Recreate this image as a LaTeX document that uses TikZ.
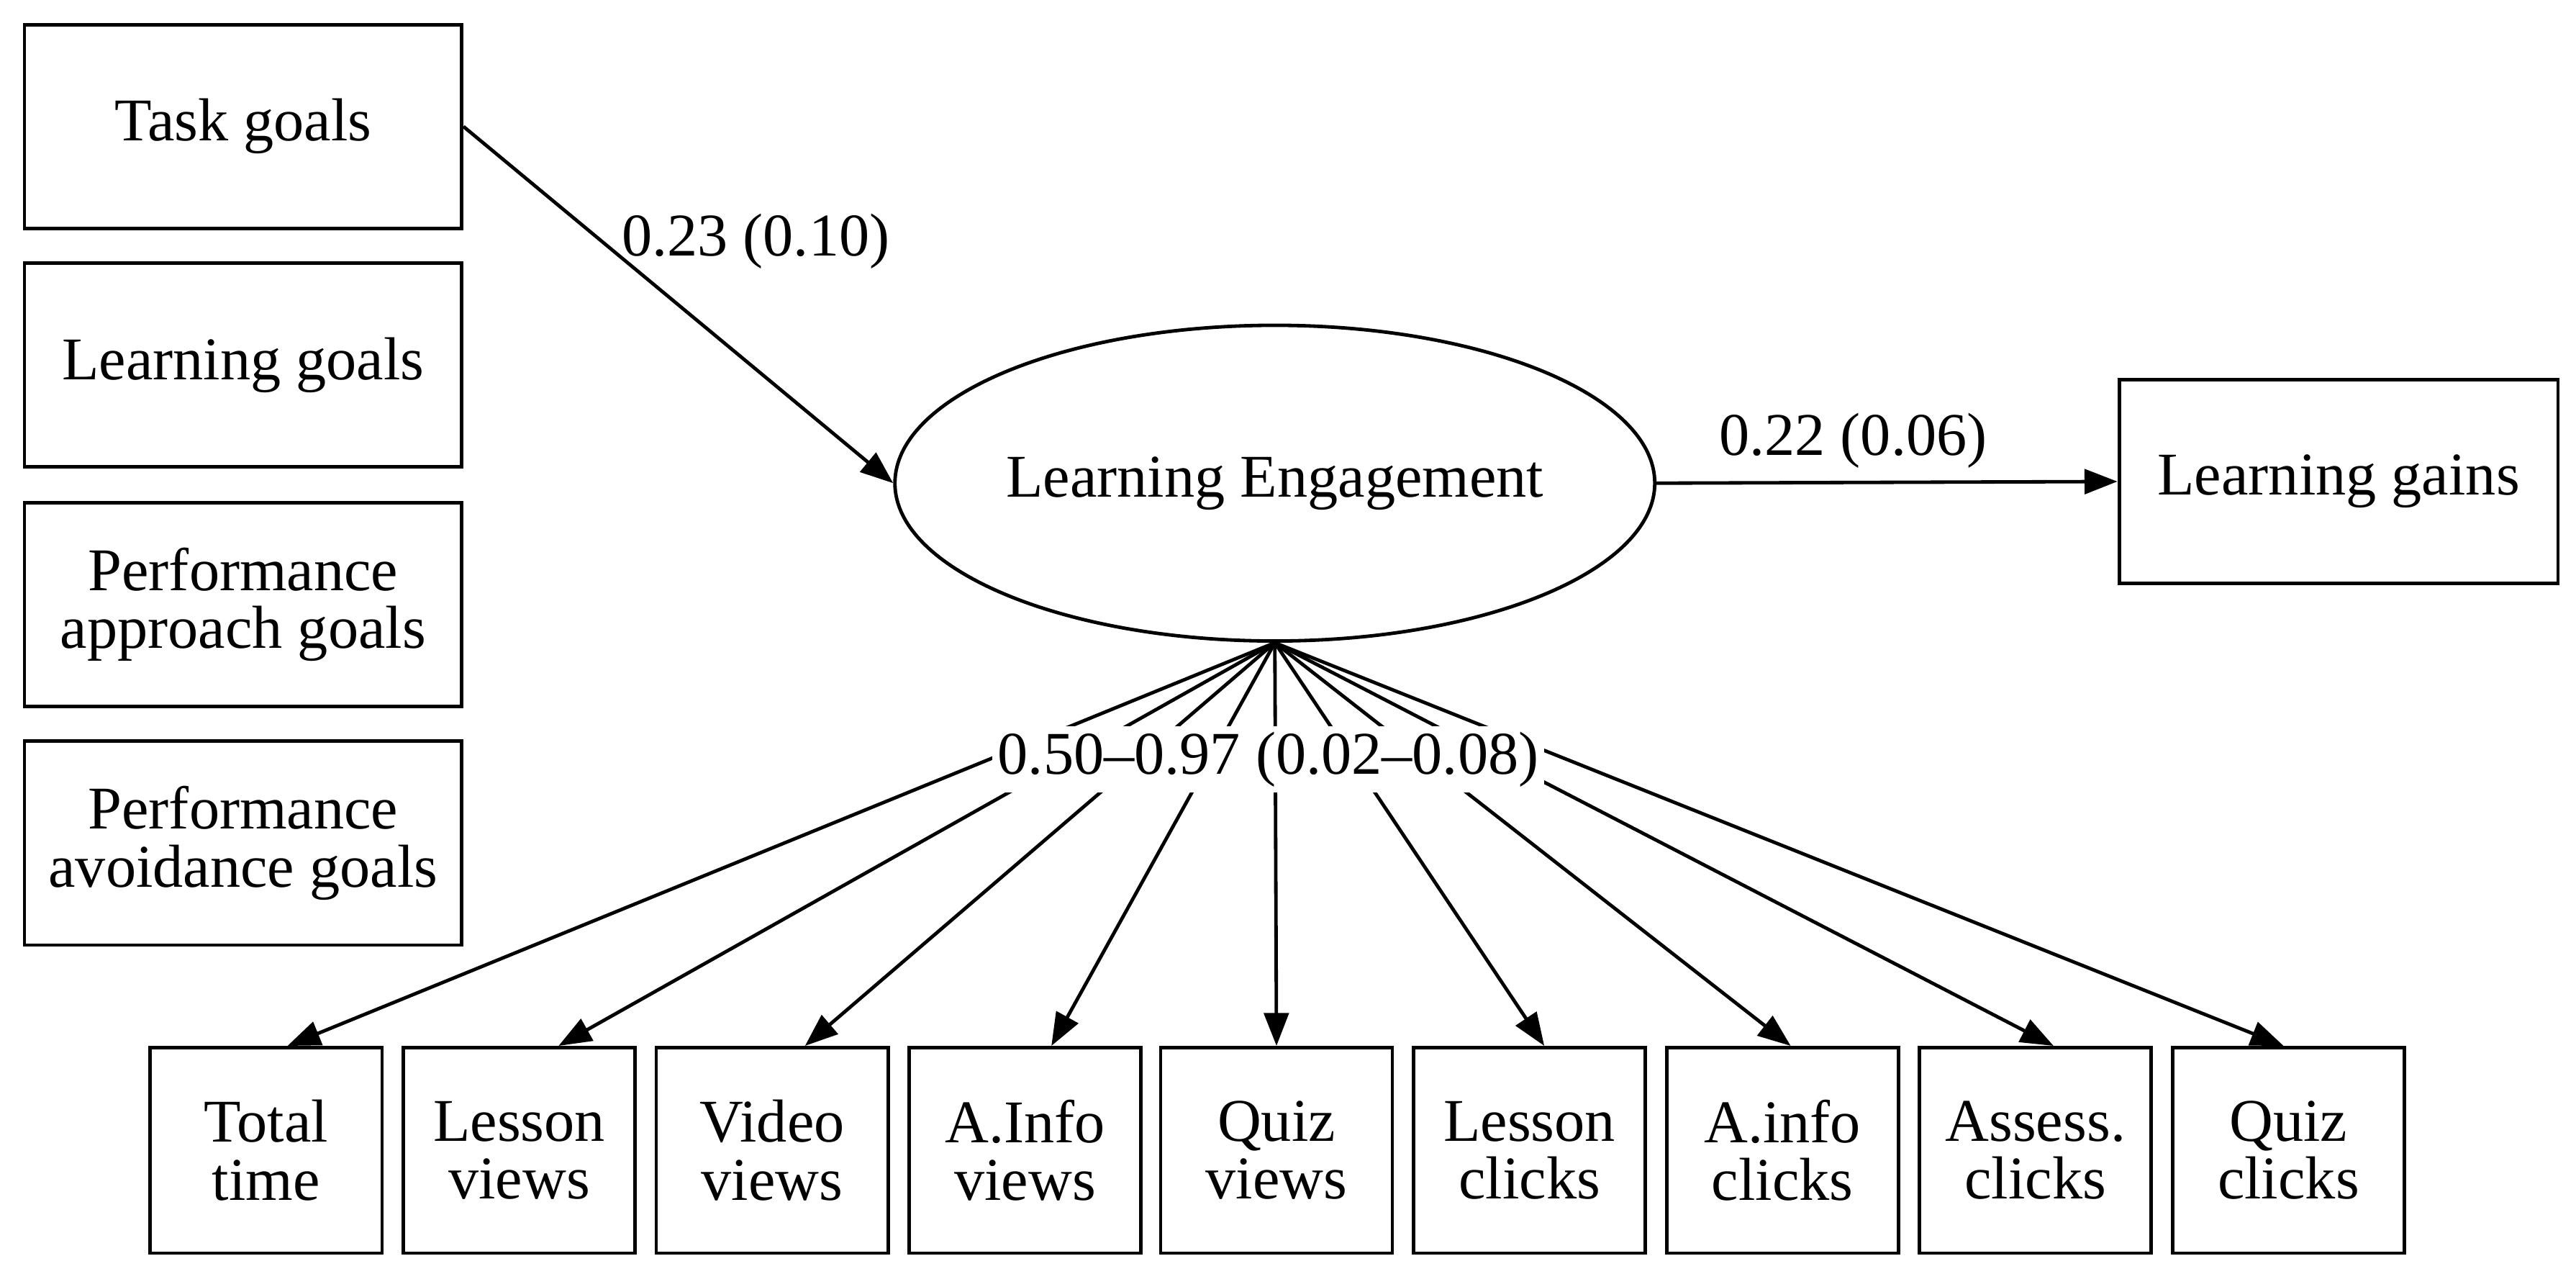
\documentclass[tikz,border=0pt]{standalone}
\usepackage{fontspec}
\setmainfont{Liberation Serif}
\usetikzlibrary{arrows.meta,calc,shapes.geometric}
\begin{document}
\begin{tikzpicture}[x=0.01cm,y=-0.01cm,line width=0.6pt,
  font=\fontsize{10.5}{12}\selectfont,
  box/.style={draw,minimum width=2.66cm,minimum height=1.24cm,align=center,inner sep=0pt},
  sbox/.style={draw,minimum width=1.41cm,minimum height=1.25cm,align=center,inner sep=0pt},
  arr/.style={-{Triangle[length=0.2cm,width=0.15cm]}},
  lbl/.style={fill=white,inner sep=1pt}]
\useasboundingbox (0,0) rectangle (1568,775);
\node[box] (tg) at (148,77) {Task goals};
\node[box] (lg) at (148,222) {Learning goals};
\node[box] (pa) at (148,368) {Performance\\[-2pt]approach goals};
\node[box] (pv) at (148,513) {Performance\\[-2pt]avoidance goals};
\node[draw,ellipse,minimum width=4.58cm,minimum height=1.92cm,inner sep=0pt] (le) at (776,294) {Learning Engagement};
\node[box,minimum width=2.67cm] (gain) at (1423.5,293) {Learning gains};
\draw[arr] (tg.east) -- (le.west);
\node at (460,147) {0.23 (0.10)};
\draw[arr] (le.east) -- (gain.west);
\node at (1128,268) {0.22 (0.06)};
\foreach \n/\x/\d/\t in {b1/162/13/Total\\[-2pt]time, b2/316/24/Lesson\\[-2pt]views, b3/470/20/Video\\[-2pt]views, b4/624/16/A.Info\\[-2pt]views, b5/777/0/Quiz\\[-2pt]views, b6/931/9/Lesson\\[-2pt]clicks, b7/1085/5/A.info\\[-2pt]clicks, b8/1239/11/Assess.\\[-2pt]clicks, b9/1393/-3/Quiz\\[-2pt]clicks}{
  \node[sbox] (\n) at (\x,700) {\t};
  \draw[arr] (le.south) -- ($(\n.north)+(\d,0)$);
}
\node[lbl] (ld) at (772,462) {0.50--0.97 (0.02--0.08)};
\end{tikzpicture}
\end{document}
